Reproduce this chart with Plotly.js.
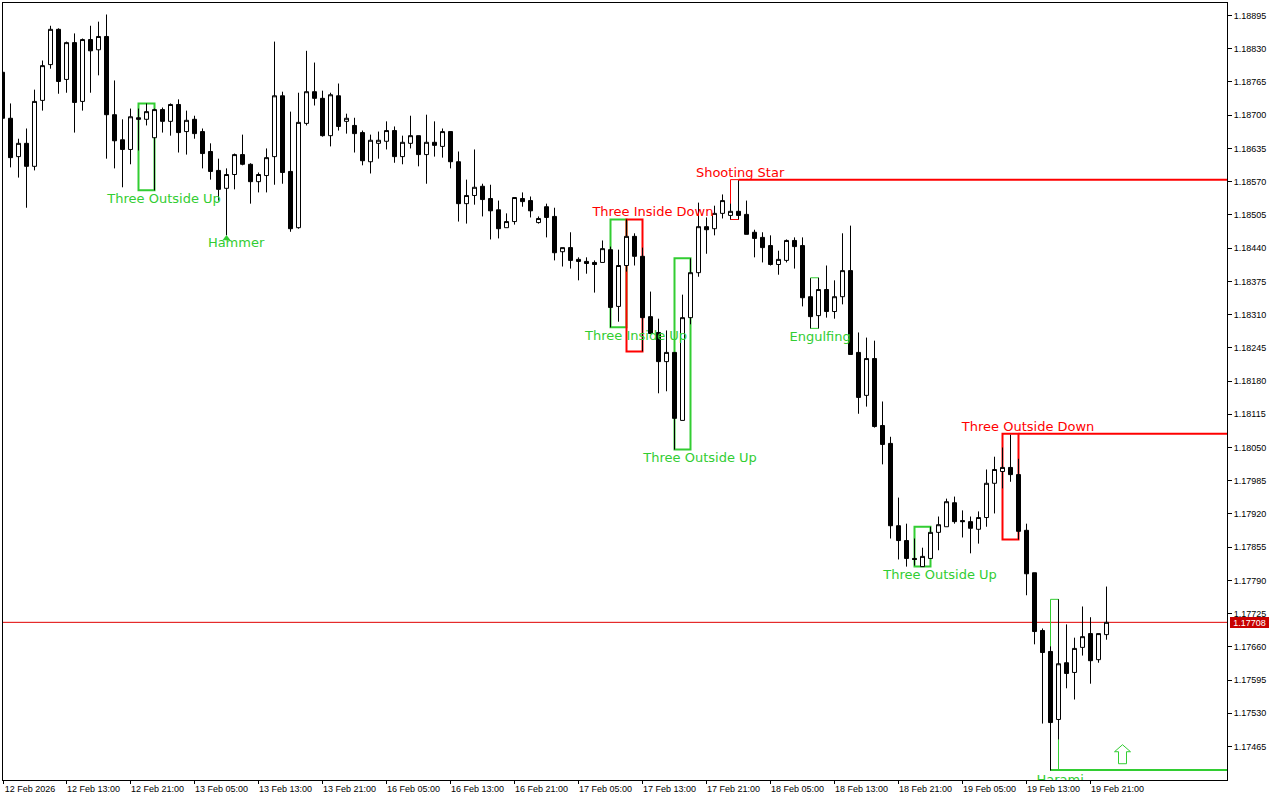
<!DOCTYPE html>
<html>
<head>
<meta charset="utf-8">
<script src="https://cdn.plot.ly/plotly-3.0.1.min.js"></script>
<style>html,body{margin:0;padding:0;background:#fff}#chart{width:1280px;height:800px}</style>
</head>
<body>
<div id="chart"></div>
<script>
var open_ = [1.18784,1.18694,1.18619,1.18645,1.18600,1.18729,1.18799,1.18868,1.18770,1.18842,1.18727,1.18848,1.18828,1.18854,1.18701,1.18652,1.18633,1.18695,1.18692,1.18656,1.18711,1.18688,1.18721,1.18668,1.18692,1.18668,1.18629,1.18592,1.18557,1.18584,1.18623,1.18604,1.18570,1.18582,1.18619,1.18738,1.18590,1.18480,1.18684,1.18746,1.18733,1.18660,1.18738,1.18688,1.18680,1.18666,1.18609,1.18645,1.18649,1.18670,1.18619,1.18645,1.18660,1.18623,1.18647,1.18639,1.18668,1.18609,1.18527,1.18543,1.18561,1.18537,1.18515,1.18480,1.18492,1.18537,1.18533,1.18490,1.18521,1.18502,1.18433,1.18441,1.18418,1.18414,1.18412,1.18412,1.18437,1.18326,1.18406,1.18463,1.18424,1.18306,1.18275,1.18218,1.18236,1.18103,1.18304,1.18392,1.18482,1.18478,1.18508,1.18504,1.18512,1.18506,1.18471,1.18461,1.18445,1.18408,1.18416,1.18455,1.18445,1.18345,1.18308,1.18359,1.18316,1.18345,1.18396,1.18236,1.18152,1.18224,1.18093,1.18058,1.17897,1.17868,1.17833,1.17817,1.17833,1.17884,1.17895,1.17942,1.17907,1.17905,1.17890,1.17913,1.17980,1.18003,1.18011,1.17997,1.17888,1.17805,1.17692,1.17651,1.17518,1.17629,1.17610,1.17659,1.17686,1.17635,1.17684];
var high = [1.18787,1.18723,1.18654,1.18674,1.18750,1.18807,1.18875,1.18870,1.18844,1.18860,1.18850,1.18875,1.18883,1.18897,1.18768,1.18692,1.18713,1.18713,1.18723,1.18713,1.18715,1.18723,1.18731,1.18709,1.18699,1.18674,1.18645,1.18615,1.18596,1.18625,1.18662,1.18606,1.18588,1.18635,1.18844,1.18746,1.18707,1.18744,1.18826,1.18803,1.18748,1.18744,1.18762,1.18703,1.18695,1.18670,1.18662,1.18668,1.18688,1.18678,1.18660,1.18699,1.18660,1.18701,1.18688,1.18674,1.18668,1.18629,1.18574,1.18633,1.18566,1.18564,1.18533,1.18508,1.18539,1.18549,1.18541,1.18502,1.18527,1.18519,1.18441,1.18471,1.18422,1.18422,1.18416,1.18455,1.18443,1.18437,1.18496,1.18469,1.18441,1.18355,1.18302,1.18279,1.18236,1.18349,1.18420,1.18529,1.18500,1.18523,1.18545,1.18527,1.18572,1.18533,1.18476,1.18471,1.18465,1.18435,1.18457,1.18461,1.18461,1.18381,1.18382,1.18406,1.18377,1.18469,1.18484,1.18275,1.18265,1.18259,1.18140,1.18071,1.17952,1.17901,1.17872,1.17854,1.17895,1.17915,1.17950,1.17954,1.17927,1.17915,1.17925,1.18007,1.18032,1.18050,1.18075,1.18028,1.17901,1.17805,1.17696,1.17661,1.17753,1.17704,1.17678,1.17739,1.17718,1.17686,1.17778];
var low = [1.18690,1.18598,1.18578,1.18519,1.18592,1.18709,1.18791,1.18742,1.18744,1.18666,1.18709,1.18744,1.18778,1.18615,1.18596,1.18559,1.18604,1.18631,1.18680,1.18553,1.18666,1.18660,1.18627,1.18623,1.18654,1.18596,1.18574,1.18533,1.18465,1.18555,1.18602,1.18527,1.18549,1.18549,1.18564,1.18566,1.18472,1.18478,1.18680,1.18719,1.18658,1.18639,1.18670,1.18664,1.18627,1.18602,1.18586,1.18615,1.18633,1.18607,1.18604,1.18635,1.18600,1.18566,1.18619,1.18617,1.18596,1.18492,1.18488,1.18525,1.18502,1.18457,1.18459,1.18480,1.18486,1.18521,1.18500,1.18488,1.18461,1.18416,1.18404,1.18400,1.18377,1.18390,1.18353,1.18412,1.18285,1.18296,1.18394,1.18406,1.18238,1.18273,1.18156,1.18160,1.18046,1.18103,1.18291,1.18384,1.18429,1.18465,1.18498,1.18496,1.18496,1.18467,1.18422,1.18412,1.18406,1.18388,1.18412,1.18400,1.18326,1.18283,1.18283,1.18304,1.18302,1.18330,1.18232,1.18116,1.18130,1.18089,1.18017,1.17872,1.17831,1.17817,1.17819,1.17817,1.17833,1.17849,1.17895,1.17901,1.17874,1.17843,1.17862,1.17895,1.17921,1.17970,1.17983,1.17870,1.17761,1.17665,1.17510,1.17418,1.17479,1.17579,1.17557,1.17643,1.17588,1.17629,1.17674];
var close_ = [1.18694,1.18617,1.18645,1.18600,1.18727,1.18797,1.18868,1.18766,1.18842,1.18725,1.18848,1.18826,1.18854,1.18701,1.18650,1.18633,1.18697,1.18692,1.18707,1.18711,1.18688,1.18721,1.18666,1.18690,1.18664,1.18625,1.18590,1.18555,1.18584,1.18623,1.18604,1.18570,1.18584,1.18617,1.18738,1.18588,1.18478,1.18686,1.18746,1.18733,1.18660,1.18740,1.18678,1.18694,1.18664,1.18611,1.18651,1.18651,1.18670,1.18619,1.18647,1.18660,1.18623,1.18647,1.18641,1.18668,1.18609,1.18527,1.18543,1.18559,1.18535,1.18513,1.18478,1.18492,1.18539,1.18531,1.18513,1.18498,1.18500,1.18431,1.18441,1.18416,1.18414,1.18410,1.18408,1.18439,1.18324,1.18406,1.18463,1.18424,1.18304,1.18273,1.18218,1.18236,1.18107,1.18304,1.18392,1.18482,1.18476,1.18508,1.18533,1.18512,1.18504,1.18467,1.18459,1.18441,1.18408,1.18418,1.18455,1.18443,1.18343,1.18306,1.18359,1.18316,1.18345,1.18396,1.18232,1.18148,1.18224,1.18091,1.18056,1.17897,1.17868,1.17833,1.17831,1.17837,1.17884,1.17899,1.17944,1.17905,1.17905,1.17892,1.17913,1.17980,1.18007,1.18011,1.17997,1.17886,1.17803,1.17690,1.17649,1.17512,1.17627,1.17608,1.17657,1.17680,1.17633,1.17686,1.17708];

var priceTicks = [1.18895,1.18830,1.18765,1.18700,1.18635,1.18570,1.18505,1.18440,1.18375,1.18310,1.18245,1.18180,1.18115,1.18050,1.17985,1.17920,1.17855,1.17790,1.17725,1.17660,1.17595,1.17530,1.17465];
var timeLabels = ['12 Feb 2026','12 Feb 13:00','12 Feb 21:00','13 Feb 05:00','13 Feb 13:00','13 Feb 21:00','16 Feb 05:00','16 Feb 13:00','16 Feb 21:00','17 Feb 05:00','17 Feb 13:00','17 Feb 21:00','18 Feb 05:00','18 Feb 13:00','18 Feb 21:00','19 Feb 05:00','19 Feb 13:00','19 Feb 21:00'];
var barsPerLabel = 8;
var currentPrice = 1.17708;

var boxStart = [17,76,78,84,91,101,114,125,131];
var boxEnd   = [19,78,80,86,92,102,116,127,132];
var boxTop   = [1.18723,1.18496,1.18496,1.18420,1.18574,1.18382,1.17895,1.18077,1.17753];
var boxBot   = [1.18553,1.18285,1.18238,1.18046,1.18496,1.18283,1.17817,1.17870,1.17419];
var boxColor = ['#32CD32','#32CD32','#FF0000','#32CD32','#FF0000','#32CD32','#32CD32','#FF0000','#32CD32'];
var boxWidth = [2,2,2,2,1,1,2,2,1];

var rayStart = [92,127,131];
var rayPrice = [1.18574,1.18077,1.17419];
var rayColor = ['#FF0000','#FF0000','#32CD32'];

var greenLabels = ['Three Outside Up','Hammer','Three Inside Up','Three Outside Up','Engulfing','Three Outside Up','Harami'];
var greenLabelX = [20.2,29.2,79.2,87.2,102.2,117.2,132.2];
var greenLabelY = [1.18535,1.18449,1.18267,1.18028,1.18265,1.17800,1.17399];
var redLabels = ['Three Inside Down','Shooting Star','Three Outside Down'];
var redLabelX = [81.3,92.2,128.2];
var redLabelY = [1.18510,1.18586,1.18089];

var hammerBar = [28];
var hammerPrice = [1.18459];
var arrowBar = 140;
var arrowPrice = 1.17450;

var GREEN = '#32CD32', RED = '#FF0000';
var bars = close_.map(function(_, i){ return i; });
var tickPositions = timeLabels.map(function(_, i){ return i * barsPerLabel; });
var xRange = [0.0625, 153.0625];
tickPositions[0] = xRange[0];

var shapes = [];
boxStart.forEach(function(s, k){
  shapes.push({type:'rect', layer:'below', xref:'x', yref:'y', x0:s, x1:boxEnd[k], y0:boxBot[k], y1:boxTop[k],
    line:{color:boxColor[k], width:boxWidth[k]}, fillcolor:'rgba(0,0,0,0)'});
});
rayStart.forEach(function(s, k){
  shapes.push({type:'line', layer:'below', xref:'x', yref:'y', x0:s, x1:xRange[1], y0:rayPrice[k], y1:rayPrice[k],
    line:{color:rayColor[k], width:2}});
});
shapes.push({type:'line', layer:'below', xref:'paper', yref:'y', x0:0, x1:1, y0:currentPrice, y1:currentPrice,
  line:{color:'#E00000', width:1}});
shapes.push({type:'path', layer:'above', xref:'x', yref:'y', xsizemode:'pixel', ysizemode:'pixel',
  xanchor:arrowBar, yanchor:arrowPrice,
  path:'M0,9.5 L8,2.5 L4,2.5 L4,-9.5 L-4,-9.5 L-4,2.5 L-8,2.5 Z',
  line:{color:GREEN, width:1}, fillcolor:'#FFFFFF'});

var traces = [
  {type:'candlestick', x:bars, open:open_, high:high, low:low, close:close_, whiskerwidth:0, hoverinfo:'skip', showlegend:false,
    increasing:{line:{color:'#000000', width:1}, fillcolor:'#FFFFFF'},
    decreasing:{line:{color:'#000000', width:1}, fillcolor:'#000000'}},
  {type:'scatter', mode:'markers', x:hammerBar, y:hammerPrice, marker:{symbol:'triangle-up', size:7, color:GREEN, line:{width:0}}, hoverinfo:'skip', showlegend:false},
  {type:'scatter', mode:'text', x:greenLabelX, y:greenLabelY, text:greenLabels, textposition:'middle center',
    textfont:{family:'"DejaVu Sans"', size:13, color:GREEN}, hoverinfo:'skip', showlegend:false},
  {type:'scatter', mode:'text', x:redLabelX, y:redLabelY, text:redLabels, textposition:'middle center',
    textfont:{family:'"DejaVu Sans"', size:13, color:RED}, hoverinfo:'skip', showlegend:false}
];

var tickFont = {family:'"Liberation Sans"', size:9, color:'#000000'};
var layout = {
  width:1280, height:800, autosize:false,
  margin:{l:3, r:53, t:3, b:20, pad:0},
  paper_bgcolor:'#FFFFFF', plot_bgcolor:'#FFFFFF',
  showlegend:false, boxgap:0.5, boxgroupgap:0, dragmode:false,
  xaxis:{type:'linear', range:xRange, rangeslider:{visible:false}, showgrid:false, zeroline:false,
    showline:true, mirror:true, linecolor:'#000000', linewidth:1,
    tickmode:'array', tickvals:tickPositions, ticktext:timeLabels, ticks:'outside', ticklen:3, tickwidth:1, tickcolor:'#000000',
    tickangle:0, tickfont:tickFont, ticklabelshift:27, ticklabelstandoff:-3, fixedrange:true},
  yaxis:{type:'linear', side:'right', range:[1.173996, 1.189195], showgrid:false, zeroline:false,
    showline:true, mirror:true, linecolor:'#000000', linewidth:1,
    tickmode:'array', tickvals:priceTicks, ticktext:priceTicks.map(function(v){return v.toFixed(5);}), ticks:'outside', ticklen:4, tickwidth:1, tickcolor:'#000000',
    tickfont:tickFont, fixedrange:true},
  shapes:shapes,
  annotations:[{xref:'paper', yref:'y', x:1, y:currentPrice, xanchor:'left', yanchor:'middle', xshift:3,
    text:currentPrice.toFixed(5), showarrow:false, bgcolor:'#C80000', width:39, height:11, borderpad:0, borderwidth:0,
    align:'center', font:{family:'"Liberation Sans"', size:9, color:'#FFFFFF'}}]
};
Plotly.newPlot('chart', traces, layout, {displayModeBar:false, staticPlot:true, responsive:false});
</script>
</body>
</html>
